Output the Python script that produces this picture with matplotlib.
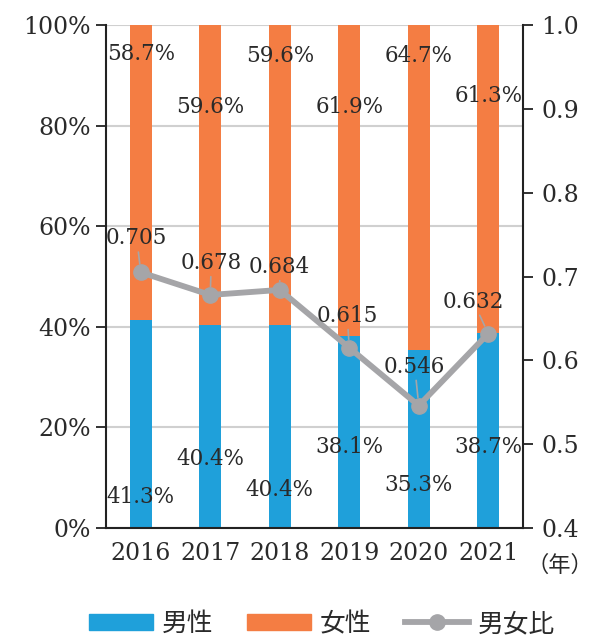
import matplotlib
matplotlib.use("Agg")
import matplotlib.pyplot as plt
from matplotlib.lines import Line2D
from matplotlib.patches import Patch
import numpy as np

years = ["2016", "2017", "2018", "2019", "2020", "2021"]
male = [41.3, 40.4, 40.4, 38.1, 35.3, 38.7]
female = [58.7, 59.6, 59.6, 61.9, 64.7, 61.3]
ratio = [0.705, 0.678, 0.684, 0.615, 0.546, 0.632]

# label placement (layout only)
male_label_y = [6.2, 13.7, 7.6, 16.1, 8.5, 16.1]
female_label_y = [94.2, 83.7, 93.8, 83.7, 93.8, 85.9]
ratio_offsets = [(-4, 34), (1, 32), (0, 23), (-2, 32), (-4, 39), (-15, 32)]

BLUE = "#1fa0da"
ORANGE = "#f47d43"
GRAY = "#a5a5a8"
TXT = "#2a2a2a"
SERIF = ["DejaVu Serif"]
CJK = ["Noto Sans CJK JP", "DejaVu Sans"]

fig = plt.figure(figsize=(5.92, 6.43), dpi=100)
ax = fig.add_axes([106/592, 1-528/643, (523-106)/592, (528-25)/643])
x = np.arange(len(years))
w = 0.32
ax.bar(x, male, w, color=BLUE, zorder=2)
ax.bar(x, female, w, bottom=male, color=ORANGE, zorder=2)

ax.set_xlim(-0.5, len(years) - 0.5)
ax.set_ylim(0, 100)
ax.set_yticks(np.arange(0, 101, 20))
ax.set_yticklabels([f"{v}%" for v in range(0, 101, 20)], fontfamily=SERIF, fontsize=17, color=TXT)
ax.set_xticks(x)
ax.set_xticklabels(years, fontfamily=SERIF, fontsize=17, color=TXT)
ax.tick_params(axis="x", length=0, pad=10)
ax.tick_params(axis="y", length=7, width=1.3, color="#222222", pad=4)
ax.grid(axis="y", color="#d0d0d0", linewidth=1.5, zorder=0)
for s in ["top", "right"]:
    ax.spines[s].set_visible(False)
ax.spines["left"].set_linewidth(1.5)
ax.spines["bottom"].set_linewidth(1.5)
ax.spines["left"].set_color("#222222")
ax.spines["bottom"].set_color("#222222")

LBL = 15.5
for i in range(len(years)):
    ax.text(x[i], male_label_y[i], f"{male[i]:.1f}%", ha="center", va="center",
            fontfamily=SERIF, fontsize=LBL, color=TXT, zorder=5)
    ax.text(x[i], female_label_y[i], f"{female[i]:.1f}%", ha="center", va="center",
            fontfamily=SERIF, fontsize=LBL, color=TXT, zorder=5)

ax2 = ax.twinx()
ax2.set_ylim(0.4, 1.0)
ax2.set_yticks(np.round(np.arange(0.4, 1.01, 0.1), 1))
ax2.set_yticklabels([f"{v:.1f}" for v in np.arange(0.4, 1.01, 0.1)], fontfamily=SERIF, fontsize=17, color=TXT)
ax2.tick_params(axis="y", length=7, width=1.3, color="#222222", pad=6)
for s in ["top", "left", "bottom"]:
    ax2.spines[s].set_visible(False)
ax2.spines["right"].set_linewidth(1.5)
ax2.spines["right"].set_color("#222222")
ax2.plot(x, ratio, color=GRAY, linewidth=4.2, marker="o", markersize=11, zorder=3)
for i in range(len(years)):
    dx, dy = ratio_offsets[i]
    ax2.annotate(f"{ratio[i]:.3f}", xy=(x[i], ratio[i]), xytext=(dx, dy),
                 textcoords="offset pixels", ha="center", va="center",
                 fontfamily=SERIF, fontsize=LBL, color=TXT,
                 arrowprops=dict(arrowstyle="-", color=GRAY, lw=1.2, shrinkA=0, shrinkB=6))

fig.text(560/592, 1-565/643, "（年）", ha="center", va="center", fontfamily=CJK, fontsize=16, color=TXT)

handles = [Patch(color=BLUE), Patch(color=ORANGE),
           Line2D([], [], color=GRAY, linewidth=4.2, marker="o", markersize=11)]
leg = fig.legend(handles, ["男性", "女性", "男女比"], loc="center", bbox_to_anchor=(322/592, 1-624/643),
                 ncol=3, frameon=False, prop={"family": CJK, "size": 18.5},
                 handlelength=2.5, handleheight=0.6, columnspacing=1.3, handletextpad=0.35,
                 borderpad=0.2)
for t in leg.get_texts():
    t.set_color(TXT)

fig.savefig("out.png", dpi=100)
